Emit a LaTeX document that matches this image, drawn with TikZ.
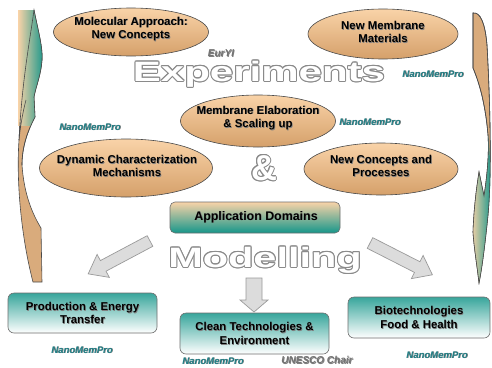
\documentclass[tikz,border=0pt]{standalone}
\usepackage{fontspec}
\setmainfont{Liberation Sans}
\usetikzlibrary{shapes.geometric,calc}
\definecolor{tanL}{HTML}{F9D3A8}
\definecolor{tanD}{HTML}{D5A06A}
\definecolor{tanS}{HTML}{D9AB7C}
\definecolor{tealC}{HTML}{15968A}
\definecolor{edgeC}{HTML}{4A4A4A}
\definecolor{nanoC}{HTML}{1F7F86}
\definecolor{outlC}{HTML}{8A8A8A}
\definecolor{arrF}{HTML}{DCDCDC}
\definecolor{arrD}{HTML}{9A9A9A}
\tikzset{
  ell/.style={ellipse, draw=edgeC, line width=0.6pt, top color=tanL, bottom color=tanD, inner sep=0pt},
  etext/.style={font=\bfseries\fontsize{11.4}{13.5}\selectfont, align=center, text=black, inner sep=0pt},
  atext/.style={font=\bfseries\fontsize{12.4}{14}\selectfont, align=center, text=black, inner sep=0pt},
  shad/.style={text=black!50, xshift=0.7pt, yshift=-0.7pt},
  appbox/.style={draw=edgeC!80, line width=0.6pt, rounded corners=5pt, top color=tanL, bottom color=tealC},
  resbox/.style={draw=edgeC!80, line width=0.6pt, rounded corners=6pt, top color=tealC!85, bottom color=white},
  nano/.style={font=\bfseries\itshape\fontsize{9.5}{10}\selectfont, text=nanoC, inner sep=0pt},
  gtext/.style={font=\bfseries\itshape\fontsize{10}{10}\selectfont, text=black!55, inner sep=0pt},
  bigw/.style={font=\bfseries\fontsize{28}{28}\selectfont, inner sep=0pt},
  amp/.style={font=\bfseries\fontsize{36}{36}\selectfont, inner sep=0pt},
  barrow/.style={fill=arrF, draw=arrD, line width=0.7pt, line join=miter},
  side/.style={fill=tanS, draw=edgeC, line width=0.6pt}
}
\newcommand\stxt[4]{%
  \node[#1,shad] (#2s) at (#3) {#4};
  \node[#1] (#2) at (#3) {#4};}
\newcommand\otxt[4]{%
  \foreach \a in {0,30,...,330} {\node[#1,text=outlC] (#2o\a) at ($(#3)+(\a:1.0)$) {#4};}
  \node[#1,text=white] (#2) at (#3) {#4};}
\begin{document}
\begin{tikzpicture}[x=1pt,y=-1pt]
\useasboundingbox (0,0) rectangle (492,367);
\fill[white] (0,0) rectangle (492,367);

% left side curved arrow
\path[side] (34,10) .. controls (38,30) and (43,48) .. (42,60)
  .. controls (41,75) and (36,86) .. (34,97) -- (35,117)
  .. controls (27,132) and (22,148) .. (22,165)
  .. controls (24,195) and (33,215) .. (41,228) -- (42,282) -- (33,282)
  .. controls (22,240) and (16,185) .. (19,140)
  .. controls (22,80) and (30,40) .. (34,10) -- cycle;
\begin{scope}
  \clip (34,10) .. controls (38,30) and (43,48) .. (42,60)
  .. controls (41,75) and (36,86) .. (34,97) -- (35,117)
  .. controls (27,132) and (22,148) .. (22,165) -- (10,165) -- (10,10) -- cycle;
  \shade[left color=tanL, right color=tealC] (18,8) rectangle (44,125);
\end{scope}
\draw[edgeC, line width=0.6pt] (34,10) .. controls (38,30) and (43,48) .. (42,60)
  .. controls (41,75) and (36,86) .. (34,97) -- (35,117)
  .. controls (27,132) and (22,148) .. (22,165);
\draw[edgeC, line width=0.6pt] (26,100) .. controls (22,115) and (20,130) .. (19,140)
  .. controls (22,80) and (30,40) .. (34,10);

% right side curved arrow
\path[side] (473,13) .. controls (480,12) and (485,22) .. (487,45)
  .. controls (490,100) and (492,170) .. (488,215)
  .. controls (485,245) and (482,268) .. (479,283)
  .. controls (477,265) and (474,248) .. (473,232)
  .. controls (474,205) and (477,185) .. (479,172) -- (484,196)
  .. controls (488,170) and (489,150) .. (488,135)
  .. controls (485,100) and (478,80) .. (473,68) -- cycle;
\begin{scope}
  \clip (488,215) .. controls (485,245) and (482,268) .. (479,283)
  .. controls (477,265) and (474,248) .. (473,232)
  .. controls (474,205) and (477,185) .. (479,172) -- (484,196)
  .. controls (488,170) and (489,150) .. (488,135)
  .. controls (491,160) and (491,190) .. (488,215) -- cycle;
  \shade[left color=tanL, right color=tealC] (471,130) rectangle (492,285);
\end{scope}
\draw[edgeC, line width=0.6pt] (473,13) .. controls (480,12) and (485,22) .. (487,45)
  .. controls (490,100) and (492,170) .. (488,215)
  .. controls (485,245) and (482,268) .. (479,283)
  .. controls (477,265) and (474,248) .. (473,232)
  .. controls (474,205) and (477,185) .. (479,172) -- (484,196)
  .. controls (488,170) and (489,150) .. (488,135)
  .. controls (485,100) and (478,80) .. (473,68) -- cycle;

% ellipses
\node[ell, minimum width=155pt, minimum height=48pt] (e1) at (131,32) {};
\node[ell, minimum width=150pt, minimum height=50pt] (e2) at (383,34) {};
\node[ell, minimum width=155pt, minimum height=52pt] (e3) at (258,121) {};
\node[ell, minimum width=173pt, minimum height=58pt] (e4) at (126,168) {};
\node[ell, minimum width=154pt, minimum height=52pt] (e5) at (381,169) {};
\stxt{etext}{t1}{131,29}{Molecular Approach:\\New Concepts}
\stxt{etext}{t2}{383,32}{New Membrane\\Materials}
\stxt{etext}{t3}{258,118}{Membrane Elaboration\\\& Scaling up}
\stxt{etext}{t4}{127,166}{Dynamic Characterization\\Mechanisms}
\stxt{etext}{t5}{381,166}{New Concepts and\\Processes}

% big outlined words
\otxt{bigw}{wexp}{259,74}{\scalebox{1.5}[1]{Experiments}}
\otxt{amp}{wamp}{264,168}{\&}
\otxt{bigw}{wmod}{265,260}{\scalebox{1.48}[1]{Modelling}}

% small labels
\stxt{gtext}{eury}{221,53}{EurYI}
\stxt{nano}{n1}{433,74}{NanoMemPro}
\stxt{nano}{n2}{370,122}{NanoMemPro}
\stxt{nano}{n3}{90,127}{NanoMemPro}
\stxt{nano}{n4}{82,350}{NanoMemPro}
\stxt{nano}{n5}{213,361}{NanoMemPro}
\stxt{nano}{n6}{437,355}{NanoMemPro}
\stxt{gtext}{unesco}{317,360}{UNESCO Chair}

% application domains
\node[appbox, minimum width=170pt, minimum height=31pt] (app) at (255,217.5) {};
\stxt{atext}{tapp}{256,217}{Application Domains}

% result boxes
\node[resbox, minimum width=149pt, minimum height=40pt] (b1) at (82.5,313) {};
\node[resbox, minimum width=149pt, minimum height=41pt] (b2) at (254.5,333.5) {};
\node[resbox, minimum width=142pt, minimum height=41pt] (b3) at (419,317.5) {};
\stxt{etext}{tb1}{82.5,313}{Production \& Energy\\Transfer}
\stxt{etext}{tb2}{254.5,333.5}{Clean Technologies \&\\Environment}
\stxt{etext}{tb3}{419,317.5}{Biotechnologies\\Food \& Health}

% block arrows
\begin{scope}[shift={(150,241)}, rotate=208]
  \draw[barrow] (0,-6) -- (53,-6) -- (53,-13) -- (70,0) -- (53,13) -- (53,6) -- (0,6) -- cycle;
\end{scope}
\begin{scope}[shift={(370,243)}, rotate=-27]
  \draw[barrow] (0,-6) -- (53,-6) -- (53,-13) -- (70,0) -- (53,13) -- (53,6) -- (0,6) -- cycle;
\end{scope}
\begin{scope}[shift={(254,278)}, rotate=-90]
  \draw[barrow] (0,-8) -- (22,-8) -- (22,-14) -- (34,0) -- (22,14) -- (22,8) -- (0,8) -- cycle;
\end{scope}
\end{tikzpicture}
\end{document}
